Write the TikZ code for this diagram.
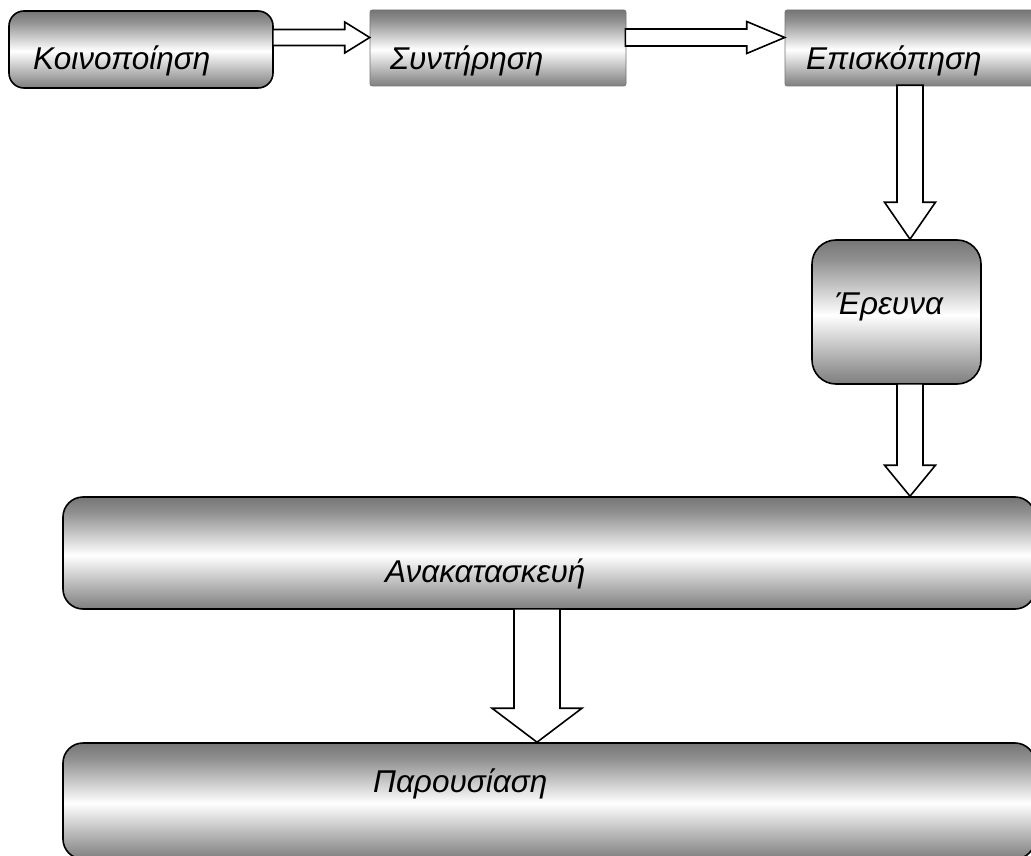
\documentclass[tikz,border=0pt]{standalone}
\usepackage{fontspec}
\setmainfont{Liberation Sans}
\usetikzlibrary{calc}

% grey - white - grey vertical fill of the process boxes
\definecolor{shadetop}{gray}{0.46}
\definecolor{shadebot}{gray}{0.50}
\pgfdeclareverticalshading{boxfill}{100bp}{%
  color(0bp)=(shadebot); color(25bp)=(shadebot); color(29bp)=(shadebot!85!white);
  color(49bp)=(white); color(68bp)=(shadetop!80!white); color(75bp)=(shadetop);
  color(100bp)=(shadetop)}

\tikzset{
  stage/.style={rectangle, rounded corners=#1, shading=boxfill, draw=black,
    line width=1.6pt, inner sep=0pt},
  flatstage/.style={rectangle, rounded corners=2pt, shading=boxfill,
    draw=black!55, line width=0.6pt, inner sep=0pt},
  caption/.style={anchor=base west, inner sep=0pt,
    font=\fontsize{31.5}{38}\selectfont\itshape},
  blk/.style={draw=black, fill=white, line width=1.6pt, line join=miter}
}

\begin{document}
\begin{tikzpicture}[x=1pt, y=-1pt]
\useasboundingbox (0,0) rectangle (1031,856);

% process boxes
\node[stage=15pt, minimum width=264pt, minimum height=77pt] (k) at (141,49.5) {};
\node[flatstage, minimum width=256pt, minimum height=76pt] (s) at (498,48) {};
\node[flatstage, minimum width=262pt, minimum height=76pt] (e) at (916,48) {};
\node[stage=24pt, minimum width=169pt, minimum height=144pt] (r) at (896.5,312) {};
\node[stage=20pt, minimum width=972pt, minimum height=112pt] (a) at (549,553) {};
\node[stage=20pt, minimum width=972pt, minimum height=116pt] (p) at (549,801) {};

% reference lines for the arrows
\coordinate (row) at (0,37.5);
\coordinate (col) at (910,0);
\coordinate (mid) at (537,0);

% block arrows between the stages
\draw[blk] let \p1=(k.east |- row), \p2=(s.west |- row) in
  (\x1-1pt,\y1+8pt) -- (\x2-25pt,\y1+8pt) -- (\x2-25pt,\y1+15.5pt) -- (\x2,\y1)
  -- (\x2-25pt,\y1-15.5pt) -- (\x2-25pt,\y1-8pt) -- (\x1-1pt,\y1-8pt) -- cycle;
\draw[blk] let \p1=(s.east |- row), \p2=(e.west |- row) in
  (\x1-1pt,\y1+8.5pt) -- (\x2-38pt,\y1+8.5pt) -- (\x2-38pt,\y1+16pt) -- (\x2,\y1)
  -- (\x2-38pt,\y1-16pt) -- (\x2-38pt,\y1-8.5pt) -- (\x1-1pt,\y1-8.5pt) -- cycle;
\draw[blk] let \p1=(e.south -| col), \p2=(r.north -| col) in
  (\x1-13pt,\y1+1pt) -- (\x1-13pt,\y2+37pt) -- (\x1-25.5pt,\y2+37pt) -- (\x1,\y2)
  -- (\x1+25.5pt,\y2+37pt) -- (\x1+13pt,\y2+37pt) -- (\x1+13pt,\y1+1pt) -- cycle;
\draw[blk] let \p1=(r.south -| col), \p2=(a.north -| col) in
  (\x1-13pt,\y1+1pt) -- (\x1-13pt,\y2+31pt) -- (\x1-25.5pt,\y2+31pt) -- (\x1,\y2)
  -- (\x1+25.5pt,\y2+31pt) -- (\x1+13pt,\y2+31pt) -- (\x1+13pt,\y1+1pt) -- cycle;
\draw[blk] let \p1=(a.south -| mid), \p2=(p.north -| mid) in
  (\x1-23pt,\y1+1pt) -- (\x1-23pt,\y2+34pt) -- (\x1-45pt,\y2+34pt) -- (\x1,\y2)
  -- (\x1+45pt,\y2+34pt) -- (\x1+23pt,\y2+34pt) -- (\x1+23pt,\y1+1pt) -- cycle;

% stage names
\node[caption] (tk) at (33,70) {Κοινοποίηση};
\node[caption] (ts) at (390,70) {Συντήρηση};
\node[caption] (te) at (806,70) {Επισκόπηση};
\node[caption] (tr) at (835,314) {Έρευνα};
\node[caption] (ta) at (385,582) {Ανακατασκευή};
\node[caption] (tp) at (373,792) {Παρουσίαση};
\end{tikzpicture}
\end{document}
